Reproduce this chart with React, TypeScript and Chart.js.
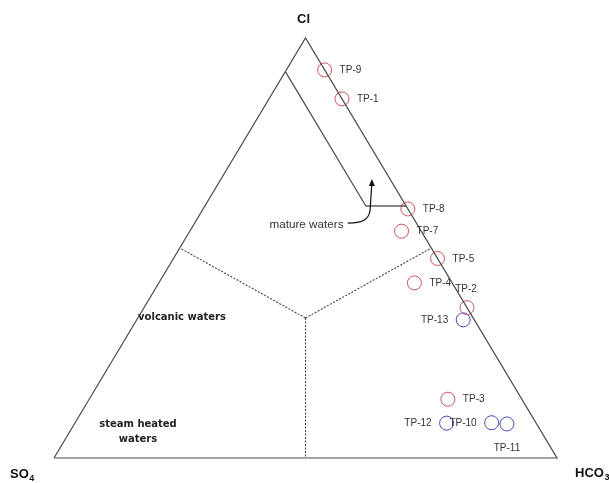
import React, { useEffect, useRef } from "react";
import { Chart, registerables } from "chart.js";

Chart.register(...registerables);

// Ternary compositions (% Cl, % SO4, % HCO3)
const redNames = ["TP-9", "TP-1", "TP-8", "TP-7", "TP-5", "TP-4", "TP-2", "TP-3"];
const redCl = [92.4, 85.5, 59.3, 54.0, 47.5, 41.7, 35.8, 14.0];
const redSO4 = [0, 0, 0, 3.9, 0, 7.5, 0, 14.7];
const redHCO3 = [7.6, 14.5, 40.7, 42.1, 52.5, 50.8, 64.2, 71.3];

const blueNames = ["TP-13", "TP-12", "TP-10", "TP-11"];
const blueCl = [32.9, 8.3, 8.4, 8.1];
const blueSO4 = [2.2, 17.8, 8.8, 5.9];
const blueHCO3 = [64.9, 73.9, 82.8, 86.0];

// Boundaries (Cl, SO4, HCO3)
const triangle: number[][] = [[0, 100, 0], [0, 0, 100], [100, 0, 0], [0, 100, 0]];
const matureBoundary: number[][] = [[92, 8, 0], [60, 8, 32], [60, 0, 40]];
const centroid = [33.33, 33.33, 33.34];
const edgeMidpoints: number[][] = [[50, 50, 0], [50, 0, 50], [0, 50, 50]];

const regionLabels = ["volcanic waters", "steam heated", "waters", "mature waters"];

const toXY = (cl: number, so4: number, hco3: number) => {
  const s = cl + so4 + hco3;
  return { x: ((hco3 + cl / 2) / s) * 100, y: (cl / s) * 100 };
};

const lineDs = (pts: number[][], color: string, dash: number[] = [], width = 1) => ({
  type: "scatter" as const,
  data: pts.map((p) => toXY(p[0], p[1], p[2])),
  showLine: true,
  borderColor: color,
  borderWidth: width,
  borderDash: dash,
  pointRadius: 0,
  fill: false,
  tension: 0,
  clip: false as any,
});

const labelSide: Record<string, string> = {
  "TP-2": "above",
  "TP-13": "left",
  "TP-12": "left",
  "TP-10": "left",
  "TP-11": "below",
};

const textPlugin = {
  id: "ternaryText",
  afterDatasetsDraw(chart: any) {
    const { ctx, chartArea } = chart;
    const xs = chart.scales.x;
    const ys = chart.scales.y;
    const px = (x: number) => xs.getPixelForValue(x);
    const py = (y: number) => ys.getPixelForValue(y);
    ctx.save();

    // point labels
    ctx.font = '10px "Liberation Sans", Arial, sans-serif';
    ctx.fillStyle = "#333";
    ctx.textBaseline = "middle";
    const groups = [
      { idx: 4, names: redNames },
      { idx: 5, names: blueNames },
    ];
    groups.forEach((g) => {
      const meta = chart.getDatasetMeta(g.idx);
      meta.data.forEach((el: any, i: number) => {
        const name = g.names[i];
        const side = labelSide[name] || "right";
        if (side === "right") {
          ctx.textAlign = "left";
          ctx.fillText(name, el.x + 15, el.y + 0.5);
        } else if (side === "left") {
          ctx.textAlign = "right";
          ctx.fillText(name, el.x - 15, el.y + 0.5);
        } else if (side === "above") {
          ctx.textAlign = "center";
          ctx.fillText(name, el.x - 1, el.y - 18);
        } else {
          ctx.textAlign = "center";
          ctx.fillText(name, el.x, el.y + 24);
        }
      });
    });

    // vertex labels
    ctx.fillStyle = "#111";
    ctx.textBaseline = "alphabetic";
    const big = 'bold 13px "Liberation Sans", Arial, sans-serif';
    const sub = 'bold 9px "Liberation Sans", Arial, sans-serif';
    ctx.font = big;
    ctx.textAlign = "center";
    ctx.fillText("Cl", (chartArea.left + chartArea.right) / 2 - 2, chartArea.top - 15);
    ctx.textAlign = "left";
    const drawSub = (main: string, s: string, x: number, y: number) => {
      ctx.font = big;
      ctx.fillText(main, x, y);
      const w = ctx.measureText(main).width;
      ctx.font = sub;
      ctx.fillText(s, x + w + 0.5, y + 3);
    };
    drawSub("SO", "4", chartArea.left - 44, chartArea.bottom + 20);
    drawSub("HCO", "3", chartArea.right + 18, chartArea.bottom + 19);

    // region labels
    ctx.font = 'bold 10px "DejaVu Sans", Verdana, sans-serif';
    ctx.fillStyle = "#222";
    ctx.textAlign = "center";
    ctx.textBaseline = "middle";
    ctx.fillText(regionLabels[0], px(25.45), py(33.5));
    ctx.fillText(regionLabels[1], px(16.7), py(8.0));
    ctx.fillText(regionLabels[2], px(16.7), py(4.5));

    ctx.font = '11.7px "Liberation Sans", Arial, sans-serif';
    ctx.fillStyle = "#333";
    ctx.fillText(regionLabels[3], px(50.2), py(55.6));

    // arrow
    ctx.strokeStyle = "#111";
    ctx.fillStyle = "#111";
    ctx.lineWidth = 1.2;
    ctx.beginPath();
    ctx.moveTo(px(58.4), py(55.9));
    ctx.bezierCurveTo(px(61.8), py(55.9), px(62.9), py(57.0), px(62.9), py(60.0));
    ctx.lineTo(px(63.15), py(64.8));
    ctx.stroke();
    const tx = px(63.2), ty = py(66.4);
    ctx.beginPath();
    ctx.moveTo(tx, ty);
    ctx.lineTo(tx - 3, ty + 7);
    ctx.lineTo(tx + 3, ty + 7);
    ctx.closePath();
    ctx.fill();

    ctx.restore();
  },
};

export default function App() {
  const ref = useRef<HTMLCanvasElement | null>(null);
  useEffect(() => {
    if (!ref.current) return;
    const datasets: any[] = [
      lineDs(triangle, "#4a4a4a", [], 1.2),
      lineDs(matureBoundary.slice(0, 2), "#4a4a4a", [], 1.2),
      lineDs(matureBoundary.slice(1), "#111", [], 1.2),
      {
        ...lineDs([centroid, edgeMidpoints[0]], "#444", [2, 1.5], 1.1),
        data: [centroid, edgeMidpoints[0], centroid, edgeMidpoints[1], centroid, edgeMidpoints[2]].map((p) =>
          toXY(p[0], p[1], p[2])
        ),
        segment: {
          borderColor: (c: any) => (c.p0DataIndex % 2 === 1 ? "rgba(0,0,0,0)" : "#444"),
        },
      },
      {
        type: "scatter",
        data: redNames.map((_, i) => toXY(redCl[i], redSO4[i], redHCO3[i])),
        pointRadius: 7,
        pointStyle: "circle",
        borderColor: "#d4505a",
        backgroundColor: "rgba(0,0,0,0)",
        borderWidth: 1,
        clip: false,
      },
      {
        type: "scatter",
        data: blueNames.map((_, i) => toXY(blueCl[i], blueSO4[i], blueHCO3[i])),
        pointRadius: 7,
        pointStyle: "circle",
        borderColor: "#4848b8",
        backgroundColor: "rgba(0,0,0,0)",
        borderWidth: 1,
        clip: false,
      },
    ];
    const chart = new Chart(ref.current, {
      type: "scatter",
      data: { datasets },
      options: {
        animation: false,
        responsive: false,
        devicePixelRatio: 1,
        layout: { padding: { left: 54, right: 52, top: 38, bottom: 25 } },
        scales: {
          x: { type: "linear", min: 0, max: 100, display: false },
          y: { type: "linear", min: 0, max: 100, display: false },
        },
        plugins: {
          legend: { display: false },
          tooltip: { enabled: false },
          title: { display: false },
        },
      },
      plugins: [textPlugin],
    });
    return () => chart.destroy();
  }, []);
  return (
    <div style={{ position: "fixed", left: 0, top: 0, width: 609, height: 483, background: "#fff" }}>
      <canvas ref={ref} width={609} height={483} style={{ display: "block" }} />
    </div>
  );
}
